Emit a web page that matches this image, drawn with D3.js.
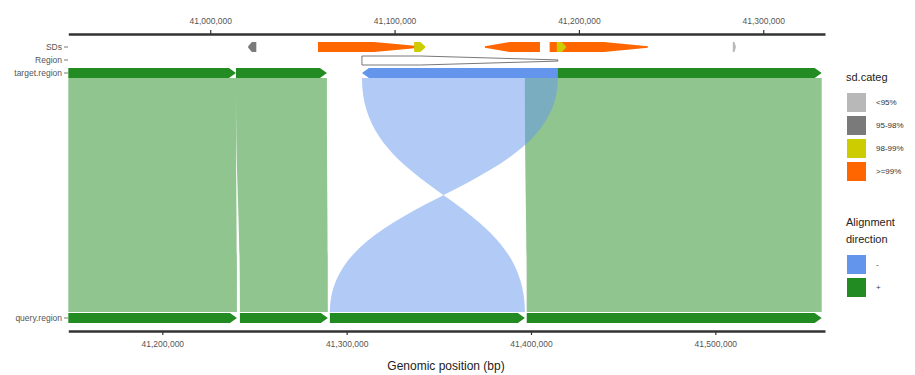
<!DOCTYPE html>
<html lang="en">
<head>
    <meta charset="UTF-8">
    <title>Miropeat plot</title>
    <script src="https://d3js.org/d3.v7.min.js"></script>
    <style>
        body { margin: 0; background: #ffffff; }
        text { font-family: "Liberation Sans", Arial, sans-serif; }
    </style>
</head>
<body>
<svg width="915" height="375"></svg>
<script>
    // alignments between target and query (bp)
    const alnTargetStart = [40923000, 41013950, 41170700, 41082300];
    const alnTargetEnd   = [41013950, 41063300, 41331700, 41188600];
    const alnQueryStart  = [41149000, 41242100, 41397700, 41290900];
    const alnQueryEnd    = [41240500, 41289800, 41557700, 41396700];
    const alnStrand      = ["+", "+", "+", "-"];

    // segmental duplications on the target (bp)
    const sdStart  = [41020600, 41058500, 41058500, 41110600, 41149000, 41163000, 41184200, 41184200, 41188000, 41283500];
    const sdEnd    = [41025000, 41077000, 41113800, 41116600, 41178800, 41178800, 41237400, 41227500, 41192900, 41285100];
    const sdStrand = ["-", "+", "+", "+", "-", "-", "+", "+", "+", "+"];
    const sdCat    = ["95-98%", ">=99%", ">=99%", "98-99%", ">=99%", ">=99%", ">=99%", ">=99%", "98-99%", "<95%"];

    // highlighted region
    const regionStart = [41082300];
    const regionEnd   = [41188600];

    const sdCategories = ["<95%", "95-98%", "98-99%", ">=99%"];
    const sdColors     = ["#b8b8b8", "#7a7a7a", "#cccc00", "#ff6600"];
    const directions   = ["-", "+"];
    const dirColors    = ["#6495ed", "#228b22"];

    const targetTicks = [41000000, 41100000, 41200000, 41300000];
    const queryTicks  = [41200000, 41300000, 41400000, 41500000];

    const svg = d3.select("svg");

    // scales
    const xT = d3.scaleLinear().domain([40923000, 41333500]).range([68.3, 825]);
    const xQ = d3.scaleLinear().domain([41149000, 41559500]).range([68.3, 825]);
    const sdColor = d3.scaleOrdinal().domain(sdCategories).range(sdColors);
    const dirColor = d3.scaleOrdinal().domain(directions).range(dirColors);

    // track rows
    const yTop = 68, yTopB = 78;      // target track
    const yQ = 313, yQB = 323;        // query track
    const linkTop = 78, linkBot = 312;

    // arrow polygon with a short head
    function arrow(x0, x1, y0, y1, strand, head, tip) {
        const h = Math.min(head, x1 - x0);
        const ym = (y0 + y1) / 2;
        const t = tip || 0;
        if (strand === "+") {
            return [[x0, y0], [x1 - h, y0], [x1, ym - t], [x1, ym + t], [x1 - h, y1], [x0, y1]];
        }
        return [[x1, y0], [x0 + h, y0], [x0, ym - t], [x0, ym + t], [x0 + h, y1], [x1, y1]];
    }
    // long tapered arrow (sds / region)
    function taper(x0, x1, y0, y1, strand, frac, tip) {
        const h = (x1 - x0) * (1 - frac);
        return arrow(x0, x1, y0, y1, strand, h, tip);
    }
    const poly = pts => "M" + pts.map(p => p.join(",")).join("L") + "Z";

    // alignment links (bezier ribbons)
    const ym = (linkTop + linkBot) / 2;
    const links = d3.range(alnStrand.length).map(i => ({
        ts: xT(alnTargetStart[i]), te: xT(alnTargetEnd[i]),
        qs: xQ(alnQueryStart[i]), qe: xQ(alnQueryEnd[i]),
        strand: alnStrand[i]
    }));
    svg.append("g").selectAll("path")
        .data(links)
        .join("path")
        .attr("d", d => {
            const a = d.strand === "+" ? d.qs : d.qe;   // below target start
            const b = d.strand === "+" ? d.qe : d.qs;   // below target end
            return `M${d.ts},${linkTop}L${d.te},${linkTop}` +
                `C${d.te},${ym} ${b},${ym} ${b},${linkBot}` +
                `L${a},${linkBot}` +
                `C${a},${ym} ${d.ts},${ym} ${d.ts},${linkTop}Z`;
        })
        .attr("fill", d => dirColor(d.strand))
        .attr("fill-opacity", 0.5);

    // target arrows
    svg.append("g").selectAll("path")
        .data(links)
        .join("path")
        .attr("d", d => poly(arrow(d.ts, d.te, yTop, yTopB, d.strand, 7)))
        .attr("fill", d => dirColor(d.strand));

    // query arrows
    svg.append("g").selectAll("path")
        .data(links)
        .join("path")
        .attr("d", d => poly(arrow(d.qs, d.qe, yQ, yQB, "+", 7)))
        .attr("fill", dirColor("+"));

    // region
    svg.append("g").selectAll("path")
        .data(regionStart.map((s, i) => [s, regionEnd[i]]))
        .join("path")
        .attr("d", d => poly(taper(xT(d[0]), xT(d[1]), 56, 65, "+", 0.3, 0.6)))
        .attr("fill", "#ffffff")
        .attr("stroke", "#555")
        .attr("stroke-width", 0.8);

    // SDs
    svg.append("g").selectAll("path")
        .data(d3.range(sdStart.length))
        .join("path")
        .attr("d", i => poly(taper(xT(sdStart[i]), xT(sdEnd[i]), 42, 52, sdStrand[i], 0.55, 0.8)))
        .attr("fill", i => sdColor(sdCat[i]));

    // axes
    const topAxis = svg.append("g")
        .attr("transform", "translate(0,34)")
        .call(d3.axisTop(xT).tickValues(targetTicks).tickFormat(d3.format(","))
            .tickSize(4).tickSizeOuter(0).tickPadding(6));
    const botAxis = svg.append("g")
        .attr("transform", "translate(0,331)")
        .call(d3.axisBottom(xQ).tickValues(queryTicks).tickFormat(d3.format(","))
            .tickSize(4).tickSizeOuter(0).tickPadding(6));
    [topAxis, botAxis].forEach(ax => {
        ax.select(".domain").attr("stroke", "#333").attr("stroke-width", 2.5);
        ax.selectAll(".tick line").attr("stroke", "#333").attr("stroke-width", 1.2);
        ax.selectAll(".tick text").attr("fill", "#555").attr("font-size", 8.5);
    });

    // row labels
    const rowLabels = [["SDs", 47], ["Region", 60], ["target.region", 73], ["query.region", 318]];
    const rl = svg.append("g").selectAll("g").data(rowLabels).join("g");
    rl.append("text")
        .attr("x", 62).attr("y", d => d[1]).attr("dy", "0.35em")
        .attr("text-anchor", "end").attr("font-size", 8.5).attr("fill", "#555")
        .text(d => d[0]);
    rl.append("line")
        .attr("x1", 64).attr("x2", 68).attr("y1", d => d[1]).attr("y2", d => d[1])
        .attr("stroke", "#555").attr("stroke-width", 0.8);

    // axis title
    svg.append("text")
        .attr("x", 446).attr("y", 370)
        .attr("text-anchor", "middle").attr("font-size", 12).attr("fill", "#222")
        .text("Genomic position (bp)");

    // legends
    const lg1 = svg.append("g").attr("transform", "translate(846,0)");
    lg1.append("text").attr("x", 0).attr("y", 81).attr("font-size", 11).attr("fill", "#222").text("sd.categ");
    lg1.selectAll("rect").data(sdCategories).join("rect")
        .attr("x", 1).attr("y", (d, i) => 93 + i * 23)
        .attr("width", 19).attr("height", 19)
        .attr("fill", d => sdColor(d));
    lg1.selectAll("text.lab").data(sdCategories).join("text")
        .attr("class", "lab")
        .attr("x", 30).attr("y", (d, i) => 102.5 + i * 23).attr("dy", "0.35em")
        .attr("font-size", 8).attr("fill", "#333")
        .text(d => d);

    const lg2 = svg.append("g").attr("transform", "translate(846,0)");
    lg2.append("text").attr("x", 0).attr("y", 226).attr("font-size", 11).attr("fill", "#222").text("Alignment");
    lg2.append("text").attr("x", 0).attr("y", 243).attr("font-size", 11).attr("fill", "#222").text("direction");
    lg2.selectAll("rect").data(directions).join("rect")
        .attr("x", 1).attr("y", (d, i) => 255 + i * 23)
        .attr("width", 19).attr("height", 19)
        .attr("fill", d => dirColor(d));
    lg2.selectAll("text.lab").data(directions).join("text")
        .attr("class", "lab")
        .attr("x", 30).attr("y", (d, i) => 264.5 + i * 23).attr("dy", "0.35em")
        .attr("font-size", 8).attr("fill", "#333")
        .text(d => d);
</script>
</body>
</html>
